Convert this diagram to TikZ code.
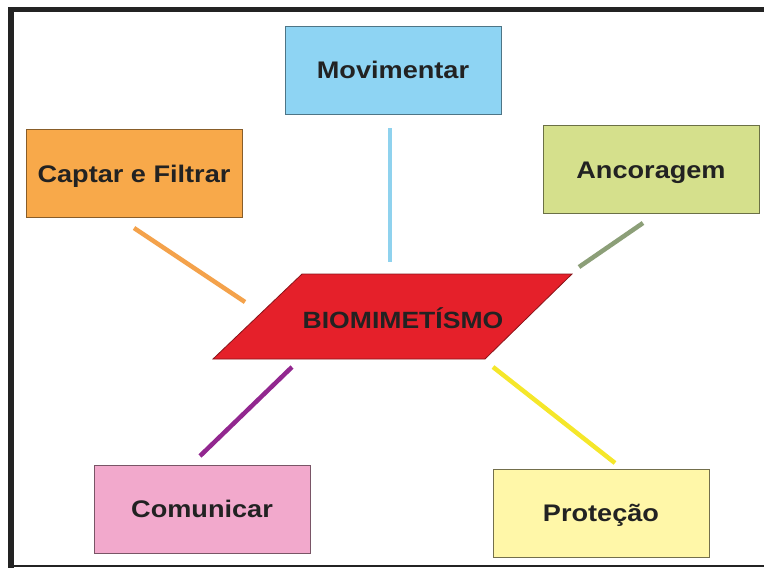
\documentclass[tikz,border=0pt]{standalone}
\usepackage{fontspec}
\setmainfont{Liberation Sans}
\newfontfamily\boxfont[FakeStretch=1.13]{Liberation Sans}
\usepackage{xcolor}
\usetikzlibrary{calc,positioning}

\definecolor{framegray}{HTML}{232323}
\definecolor{txtgray}{HTML}{222222}
\definecolor{movfill}{HTML}{8ED4F3}
\definecolor{capfill}{HTML}{F8A94A}
\definecolor{ancfill}{HTML}{D5E08C}
\definecolor{comfill}{HTML}{F2A9CC}
\definecolor{profill}{HTML}{FFF7A8}
\definecolor{biofill}{HTML}{E5202A}
\definecolor{movline}{HTML}{8FD2EE}
\definecolor{capline}{HTML}{F4A24B}
\definecolor{ancline}{HTML}{8C9F78}
\definecolor{comline}{HTML}{92278F}
\definecolor{proline}{HTML}{F5E72A}

\begin{document}
\begin{tikzpicture}[x=1pt,y=-1pt,
    box/.style={line width=0.8pt, minimum width=216pt, minimum height=88pt,
      inner sep=0pt, text=txtgray, text height=17pt, text depth=0pt,
      font=\boxfont\bfseries\fontsize{24}{28}\selectfont},
    link/.style={line width=4.5pt}]
  \useasboundingbox (0,0) rectangle (764,568);

  % ---------- frame ----------
  \fill[framegray] (8,7) rectangle (764,12);
  \fill[framegray] (8,7) rectangle (14,568);
  \draw[framegray, line width=1.5pt] (8,566) -- (764,566);

  % ---------- outer boxes ----------
  \node[box, draw=movfill!55!black, fill=movfill] (mov) at (393,70) {Movimentar};
  \node[box, draw=capfill!55!black, fill=capfill] (cap) at (134,173.5) {Captar e Filtrar};
  \node[box, draw=ancfill!50!black, fill=ancfill] (anc) at (651,169.5) {Ancoragem};
  \node[box, draw=comfill!50!black, fill=comfill] (com) at (202,509) {Comunicar};
  \node[box, draw=profill!45!black, fill=profill] (pro) at (601,513) {Proteção};

  % ---------- centre: parallelogram ----------
  \coordinate (pbl) at (213,359);
  \coordinate (pbr) at (485,359);
  \coordinate (ptr) at (572,274);
  \coordinate (ptl) at (302,274);
  \draw[biofill!60!black, fill=biofill, line width=0.8pt] (pbl) -- (pbr) -- (ptr) -- (ptl) -- cycle;
  \node[text=txtgray, text height=16pt, text depth=0pt,
    font=\boxfont\bfseries\fontsize{23.5}{27}\selectfont] (bio) at (403,320) {BIOMIMETÍSMO};

  % ---------- links (free ends) ----------
  \coordinate (movA) at (390,128);
  \coordinate (movB) at (390,262);
  \coordinate (capA) at (134,228);
  \coordinate (capB) at (245,302);
  \coordinate (ancA) at (643,223);
  \coordinate (ancB) at (579,267);
  \coordinate (comA) at (292,367);
  \coordinate (comB) at (200,456);
  \coordinate (proA) at (493,367);
  \coordinate (proB) at (615,463);

  \draw[link, movline] (movA) -- (movB);
  \draw[link, capline] (capA) -- (capB);
  \draw[link, ancline] (ancA) -- (ancB);
  \draw[link, comline] (comA) -- (comB);
  \draw[link, proline] (proA) -- (proB);
\end{tikzpicture}
\end{document}
